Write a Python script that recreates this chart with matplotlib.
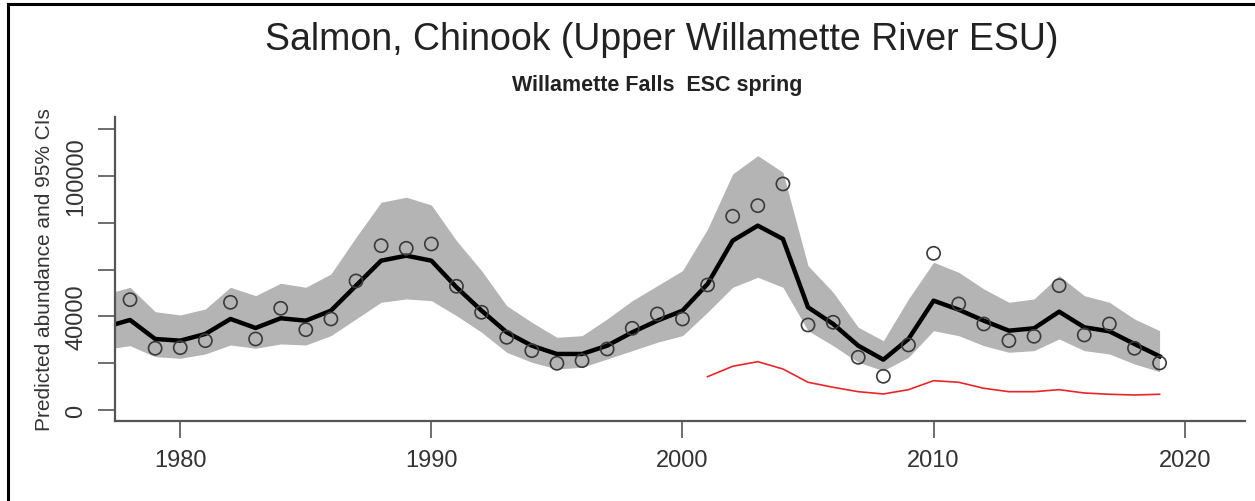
import matplotlib.pyplot as plt
from matplotlib.lines import Line2D

plt.rcParams['font.family'] = ['Liberation Sans', 'DejaVu Sans']

# predicted abundance with 95% CI band
years = list(range(1977, 2020))
predicted = [35400, 38460, 30340, 29620, 32480, 38890, 35040, 39190, 38160, 42440,
             53120, 63800, 65940, 63800, 52430, 42440, 33190, 27480, 23930, 23930,
             27480, 33190, 38160, 42440, 53850, 72350, 78760, 73080, 43880, 36750,
             27480, 21500, 30340, 46710, 42860, 38160, 33890, 34900, 42010, 35340,
             33620, 28200, 22940]
ci_upper = [49400, 52430, 42010, 40600, 43160, 52430, 48850, 54150, 52430, 58120,
            73800, 88760, 90900, 87610, 72350, 59530, 44570, 37480, 31060, 31750,
            38890, 46710, 53120, 59530, 77350, 100850, 108680, 101560, 61670, 50300,
            35340, 29620, 47440, 63110, 58840, 51710, 46020, 47440, 57410, 48850,
            46020, 38890, 33890]
ci_lower = [25900, 27480, 22780, 22090, 23930, 27780, 26370, 28200, 27780, 31750,
            38890, 46020, 47440, 46710, 40300, 33200, 24650, 20380, 17520, 18250,
            21790, 25350, 28940, 31750, 41750, 52430, 56700, 52430, 33890, 27480,
            20380, 16800, 22510, 33890, 31750, 27480, 24650, 25350, 30340, 25350,
            23930, 19660, 16370]

# observed counts
obs_years = list(range(1978, 2020))
observed = [47130, 26370, 26620, 29620, 46000, 30340, 43450, 34320, 38890, 55130,
            70210, 69090, 70940, 52860, 41750, 31060, 25350, 19950, 21080, 26070,
            34900, 41030, 38890, 53420, 82780, 87310, 96580, 36320, 37480, 22510,
            14400, 27780, 66950, 45300, 36750, 29620, 31490, 53120, 32050, 36750,
            26370, 20090]

# red series
red_years = list(range(2001, 2020))
red_vals = [14230, 18670, 20640, 17520, 11840, 9700, 7820, 6840, 8680, 12520,
            11840, 9270, 7820, 7820, 8680, 7260, 6710, 6410, 6710]

x_ticks = [1980, 1990, 2000, 2010, 2020]
y_ticks = [0, 20000, 40000, 60000, 80000, 100000, 120000]
y_tick_labels = ['0', '', '40000', '', '', '100000', '']

fig = plt.figure(figsize=(12.55, 5.02), dpi=100)
ax = fig.add_axes([0.0916, 0.1594, 0.9004, 0.6056])

ax.fill_between(years, ci_lower, ci_upper, color='#b4b4b4', linewidth=0, zorder=1)
ax.plot(years, predicted, color='black', linewidth=3.2, zorder=2)
ax.plot(red_years, red_vals, color='#e8262a', linewidth=1.2, zorder=2)
ax.scatter(obs_years, observed, s=90, facecolors='none', edgecolors='#3a3a3a',
           linewidths=1.2, zorder=3)

ax.set_xlim(1977.4, 2022.4)
ax.set_ylim(-4700, 125200)

ax.spines['top'].set_visible(False)
ax.spines['right'].set_visible(False)
for side in ['left', 'bottom']:
    ax.spines[side].set_color('#555555')
    ax.spines[side].set_linewidth(1.6)

ax.set_xticks(x_ticks)
ax.set_xticklabels([str(y) for y in x_ticks])
ax.set_yticks(y_ticks)
ax.set_yticklabels(y_tick_labels, rotation=90, va='center')
ax.tick_params(axis='both', length=12, width=1.2, color='#555555',
               labelsize=17, labelcolor='#333333', pad=8)
ax.set_ylabel('Predicted abundance and 95% CIs', fontsize=15, color='#333333',
              labelpad=8)

fig.text(0.527, 0.92, 'Salmon, Chinook (Upper Willamette River ESU)',
         ha='center', va='center', fontsize=27, color='#222222')
fig.text(0.524, 0.829, 'Willamette Falls  ESC spring', ha='center', va='center',
         fontsize=15.5, fontweight='bold', color='#222222')

# frame lines along the top and left edge
fig.add_artist(Line2D([8 / 1255, 1], [1 - 5 / 502, 1 - 5 / 502],
                      transform=fig.transFigure, color='black', linewidth=2.2))
fig.add_artist(Line2D([8 / 1255, 8 / 1255], [0, 1 - 5 / 502],
                      transform=fig.transFigure, color='black', linewidth=2.2))

fig.savefig('out.png', dpi=100)
